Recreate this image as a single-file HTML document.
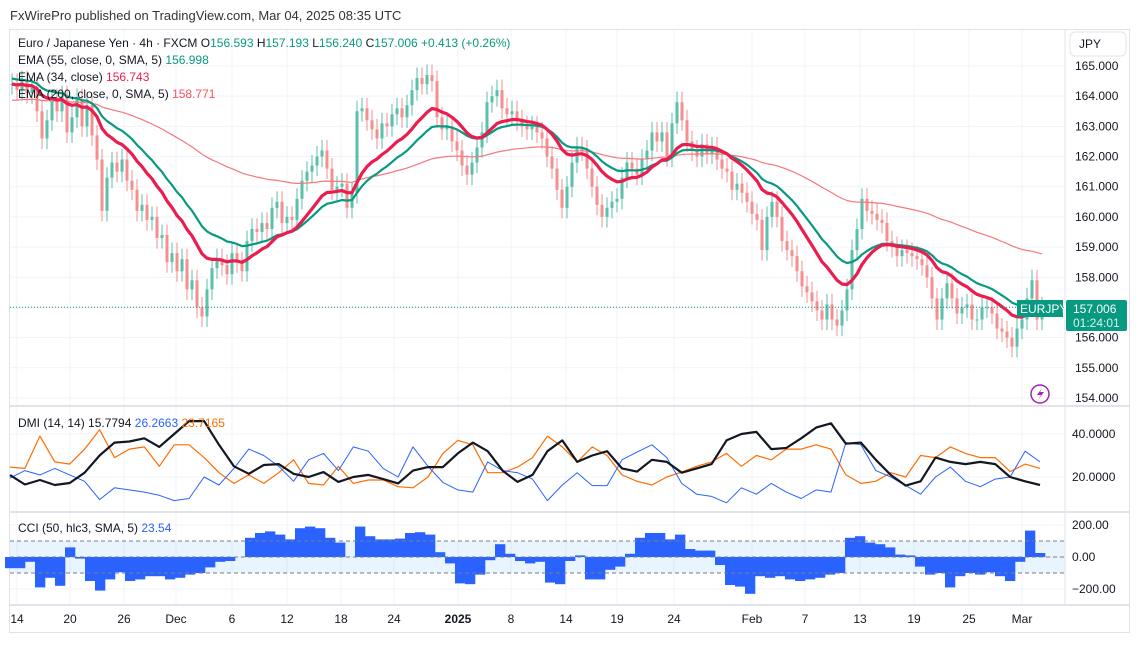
<!DOCTYPE html>
<html><head><meta charset="utf-8"><style>
body{margin:0;background:#fff;width:1139px;height:640px;overflow:hidden;font-family:"Liberation Sans",sans-serif;}
svg text{font-family:"Liberation Sans",sans-serif;}
</style></head><body>
<svg id="c" width="1139" height="640" xmlns="http://www.w3.org/2000/svg">
<rect x="0" y="0" width="1139" height="640" fill="#fff"/>
<text x="10" y="20" font-size="13" fill="#333">FxWirePro published on TradingView.com, Mar 04, 2025 08:35 UTC</text>
<rect x="9.5" y="29.5" width="1120" height="603" fill="none" stroke="#e0e3eb"/>
<g id="grid"></g>
<g id="price"></g>
<g id="dmi"></g>
<g id="cci"></g>
<g id="axes"></g>
<g font-size="12">
<text x="18" y="47" fill="#131722">Euro / Japanese Yen · 4h · FXCM <tspan>O</tspan><tspan fill="#089981">156.593</tspan> H<tspan fill="#089981">157.193</tspan> L<tspan fill="#089981">156.240</tspan> C<tspan fill="#089981">157.006</tspan> <tspan fill="#089981">+0.413 (+0.26%)</tspan></text>
<text x="18" y="64" fill="#131722">EMA (55, close, 0, SMA, 5) <tspan fill="#089981">156.998</tspan></text>
<text x="18" y="81" fill="#131722">EMA (34, close) <tspan fill="#e91e4f">156.743</tspan></text>
<text x="18" y="98" fill="#131722">EMA (200, close, 0, SMA, 5) <tspan fill="#f7525f">158.771</tspan></text>
<text x="18" y="427" fill="#131722">DMI (14, 14) <tspan>15.7794</tspan> <tspan fill="#2962ff">26.2663</tspan> <tspan fill="#ff6d00">23.7165</tspan></text>
<text x="18" y="532" fill="#131722">CCI (50, hlc3, SMA, 5) <tspan fill="#2962ff">23.54</tspan></text>
</g>
<rect x="1070" y="32" width="56" height="24" rx="5" fill="#fff" stroke="#e0e3eb"/>
<text x="1079" y="48" font-size="12" fill="#131722">JPY</text>
<rect x="1017" y="300" width="46" height="17" fill="#089981"/>
<text x="1020" y="313" font-size="12" fill="#fff">EURJPY</text>
<rect x="1066" y="300" width="61" height="31" rx="2" fill="#089981"/>
<text x="1073" y="313" font-size="12" fill="#fff">157.006</text>
<text x="1073" y="327" font-size="12" fill="#d7f3ec">01:24:01</text>
<circle cx="1040" cy="394" r="9" fill="#fff" stroke="#9c27b0" stroke-width="1.5"/>
<path d="M1042 388 L1037 395 L1041 395 L1038 400 L1044 392 L1040 392 Z" fill="#9c27b0"/>
</svg>
<script>
const closes=[164.4,164.2,164.5,164.1,164.3,163.5,162.6,163.2,163.9,163.5,164.0,162.8,163.3,163.9,163.0,163.7,162.7,161.9,160.2,161.3,161.8,161.5,161.9,161.2,160.9,160.2,160.4,159.9,160.0,159.3,159.4,158.5,158.8,158.2,158.6,157.6,157.9,157.0,156.7,157.6,158.3,158.6,158.4,158.1,158.8,158.5,158.2,159.2,159.6,159.5,159.8,159.6,160.3,160.5,159.8,160.0,159.9,160.6,161.2,161.5,161.7,162.0,162.2,161.6,160.9,161.0,161.1,160.3,160.8,163.5,163.6,163.2,162.9,162.6,163.1,163.0,163.4,163.6,163.3,163.7,164.2,164.6,164.4,164.7,164.5,163.3,162.9,163.0,162.5,162.2,161.7,161.4,161.8,162.3,162.8,163.8,164.0,164.2,163.6,163.4,163.5,163.2,163.0,162.9,163.0,162.8,162.6,162.0,161.6,160.9,160.3,161.0,161.8,162.3,162.2,161.6,161.0,160.4,160.0,160.3,160.5,160.6,161.3,161.8,161.6,161.4,161.9,162.2,162.8,162.5,162.8,162.0,163.1,163.8,163.2,162.5,162.2,162.0,162.4,162.1,162.3,161.9,161.6,161.5,160.9,161.1,160.8,160.5,160.1,159.9,158.9,160.0,160.5,160.0,159.2,158.9,158.7,158.2,157.7,157.5,157.2,156.9,156.6,157.1,156.6,156.4,156.9,157.6,158.9,159.6,160.6,160.2,160.1,159.9,159.8,159.2,159.0,158.7,158.9,158.8,158.7,158.6,158.4,158.0,157.3,156.6,157.3,157.8,157.3,156.8,157.0,157.1,156.6,156.6,157.0,157.0,156.8,156.3,156.2,156.0,155.7,156.3,156.6,157.3,157.9,156.6,157.0];
const adx=[20.9,16.5,18.6,16.3,17.2,22,30,36,36.5,38,34,40,46,46,35,25,21.5,25.6,26,21.5,20,22.3,17.7,20,21,19,17,23,24.6,24.6,31,36,32,23,17.7,21,32,37,27,30,32,24,22.5,28,27,22,24,26,37,40,41,33,33.5,38,43,45,35.5,36,28,21,16,18,29,27,26,27,26,20,18,16.3];
const minusDI=[24.6,24,39,27,26,33,42,29,33,34,25,35,35,29,22,17,21,17,22,28,17,16.3,25,17,18.6,18.6,15.5,15,20,31,37,35,22,22,24.6,29,39,34,27,34,30,21,18,16.3,20,22.3,25,27,31,25,30,28,33,33,35,33,21,17,18,22,20,30,29,34,31,29,29,22.5,26,24];
const plusDI=[19.5,23,21,24,21,18,9.5,15,14,13,11.5,9,10,20,16.3,24,33,30,25,18,28,31,23,34,32,24,20,34,25,17.5,14,13,27,23,22,19,9,16.3,22,16,16,28,31.6,35,29,17,12,11,8,15,12,17,13,10,14,13,36,35,23,20,16,12,20,24.6,18,15.5,19,20,32,27];
const cci=[-70,-70,-30,-190,-130,-180,60,-10,-150,-210,-140,-95,-150,-140,-120,-120,-140,-130,-110,-100,-65,-30,-25,0,120,150,160,140,110,180,190,180,120,90,0,190,130,110,110,115,150,155,140,30,-40,-165,-170,-110,-20,80,20,-25,-40,-30,-160,-170,-25,10,-140,-140,-80,-60,20,120,150,150,110,140,50,40,40,-50,-175,-185,-230,-120,-130,-120,-140,-150,-140,-130,-110,-100,120,130,90,80,60,15,10,-60,-110,-100,-190,-120,-100,-110,-95,-120,-150,-30,165,25];
const priceTicks=[165,164,163,162,161,160,159,158,157,156,155,154];
const dmiTicks=[40,20];
const cciTicks=[200,0,-200];
const timeLabels=["14","20","26","Dec","6","12","18","24","2025","8","14","19","24","Feb","7","13","19","25","Mar"];
const timeIdx=[1,11.6,22.4,32.8,44,55,65.8,76.4,89.2,99.8,110.8,121,132.4,148,158.6,169.6,180.4,191.4,202];

const NS="http://www.w3.org/2000/svg";
function mk(p,t,a){const e=document.createElementNS(NS,t);for(const k in a)e.setAttribute(k,a[k]);p.appendChild(e);return e;}
const xC=i=>12+i*5;
const yP=p=>66+(165-p)*30.18;
const xS=(i,n)=>10+i*(1030/(n-1));
const yD=v=>434+(40-v)*2.15;
const yC=v=>557-v*0.16;
const G=document.getElementById('grid'),P=document.getElementById('price'),D=document.getElementById('dmi'),C=document.getElementById('cci'),A=document.getElementById('axes');

priceTicks.forEach(t=>{const l=mk(G,'line',{x1:10,x2:1065,y1:yP(t),y2:yP(t),stroke:'#f0f3fa'});


const tx=mk(A,'text',{x:1075,y:yP(t)+4,'font-size':12,fill:'#131722'});tx.textContent=t.toFixed(3);

});
dmiTicks.forEach(t=>{const l=mk(G,'line',{x1:10,x2:1065,y1:yD(t),y2:yD(t),stroke:'#f0f3fa'});


const tx=mk(A,'text',{x:1072,y:yD(t)+4,'font-size':12,fill:'#131722'});tx.textContent=t.toFixed(4);

});
cciTicks.forEach(t=>{const l=mk(G,'line',{x1:10,x2:1065,y1:yC(t),y2:yC(t),stroke:'#f0f3fa'});


const tx=mk(A,'text',{x:1072,y:yC(t)+4,'font-size':12,fill:'#131722'});tx.textContent=(t<0?'\u2212'+(-t).toFixed(2):t.toFixed(2));

});
timeLabels.forEach((s,k)=>{const x=xC(timeIdx[k]);const l=mk(G,'line',{x1:x,x2:x,y1:30,y2:605,stroke:'#f0f3fa'});


const tx=mk(A,'text',{x:x,y:623,'font-size':12,fill:'#131722','text-anchor':'middle','font-weight':s==='2025'?'bold':'normal'});tx.textContent=s;

});
[406,512,605].forEach(y=>{const l=mk(A,'line',{x1:10,x2:1130,y1:y,y2:y,stroke:'#e0e3eb','stroke-width':2});

});
const va=mk(A,'line',{x1:1065,x2:1065,y1:30,y2:605,stroke:'#e0e3eb'});



closes.forEach((c,i)=>{const o=i?closes[i-1]:c;const up=c>=o;const col=up?'#5bbfa9':'#f48f90';
const hi=Math.max(o,c)+0.35,lo=Math.min(o,c)-0.35;const x=xC(i);
const w=mk(P,'line',{x1:x,x2:x,y1:yP(hi),y2:yP(lo),stroke:col,'stroke-width':1});


const b=mk(P,'rect',{x:x-1.5,y:yP(Math.max(o,c)),width:3,height:Math.max(1,Math.abs(yP(o)-yP(c))),fill:col});

});
function ema(per,seed){const a=2/(per+1);let e=seed;return closes.map(c=>(e=e+a*(c-e)));}
function pl(g,vals,xf,yf,col,w,name){const d=vals.map((v,i)=>(i?'L':'M')+xf(i).toFixed(1)+' '+yf(v).toFixed(1)).join(' ');
const p=mk(g,'path',{d:d,fill:'none',stroke:col,'stroke-width':w,'stroke-linejoin':'round'});

}
pl(P,ema(88,163.85),xC,yP,'#f7777b',1.2,'ema200-line');
pl(P,ema(24,164.6),xC,yP,'#089981',2.2,'ema55-line');
pl(P,ema(15,164.4),xC,yP,'#e91e4f',3.2,'ema34-line');
const dl=mk(P,'line',{x1:10,x2:1065,y1:yP(157.006),y2:yP(157.006),stroke:'#089981','stroke-dasharray':'1 2'});



pl(D,minusDI,i=>xS(i,minusDI.length),yD,'#ff6d00',1.2,'minus-di-line');
pl(D,plusDI,i=>xS(i,plusDI.length),yD,'#2962ff',1,'plus-di-line');
pl(D,adx,i=>xS(i,adx.length),yD,'#131722',2.2,'adx-line');

const band=mk(C,'rect',{x:10,y:yC(100),width:1055,height:yC(-100)-yC(100),fill:'#2196f3','fill-opacity':0.1});


const n=cci.length,st=1030/(n-1);
cci.forEach((v,i)=>{const x=xS(i,n);const r=mk(C,'rect',{x:x-st/2,y:Math.min(yC(v),yC(0)),width:st+0.3,height:Math.abs(yC(v)-yC(0)),fill:'#2962ff'});

});
[100,0,-100].forEach(t=>{const l=mk(C,'line',{x1:10,x2:1065,y1:yC(t),y2:yC(t),stroke:'#787b86','stroke-dasharray':'4 3','stroke-width':1});

});
</script>
</body></html>
